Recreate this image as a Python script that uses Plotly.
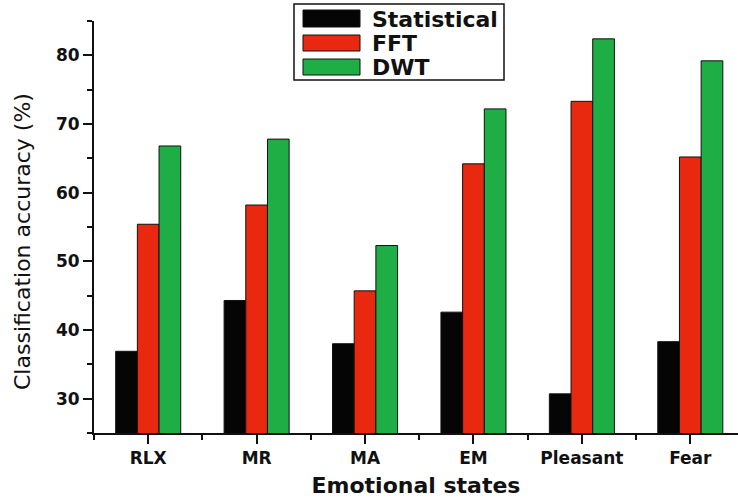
import plotly.graph_objects as go

# Classification accuracy per emotional state and feature type
states = ["RLX", "MR", "MA", "EM", "Pleasant", "Fear"]
statistical = [36.9, 44.3, 38.0, 42.6, 30.7, 38.3]
fft = [55.4, 58.2, 45.7, 64.2, 73.3, 65.2]
dwt = [66.8, 67.8, 52.3, 72.2, 82.4, 79.2]
y_ticks = [30, 40, 50, 60, 70, 80]

series = [
    ("Statistical", statistical, "#050505"),
    ("FFT", fft, "#e8290f"),
    ("DWT", dwt, "#1fae45"),
]

W, H = 738, 499
L, R, T, B = 94, 0, 21, 66
plot_w = W - L - R
plot_h = H - T - B
FONT = "DejaVu Sans, Liberation Sans, Arial, sans-serif"

xs = list(range(len(states)))

fig = go.Figure()
for name, vals, col in series:
    fig.add_trace(go.Bar(
        x=xs, y=vals, name=name,
        marker=dict(color=col, line=dict(color="#111111", width=1)),
        showlegend=False,
    ))


def px(x):
    return (x - L) / plot_w


def py(y):
    return (H - B - y) / plot_h


# Legend box drawn by hand so the swatches keep their wide shape
shapes = [dict(type="rect", xref="paper", yref="paper",
               x0=px(294), x1=px(504), y0=py(80), y1=py(4),
               line=dict(color="#111111", width=1.5), fillcolor="white")]
annotations = []
rows = [(10, 27), (35, 51), (59, 75)]
for (name, _, col), (y0, y1) in zip(series, rows):
    shapes.append(dict(type="rect", xref="paper", yref="paper",
                       x0=px(303), x1=px(360), y0=py(y1), y1=py(y0),
                       line=dict(color="#111111", width=1), fillcolor=col))
    annotations.append(dict(text=f"<b>{name}</b>", xref="paper", yref="paper",
                            x=px(370), y=py((y0 + y1) / 2 + 1), xanchor="left",
                            yanchor="middle", showarrow=False,
                            font=dict(size=22, color="#111111")))

# Y-axis title, set slightly below the middle of the plot area
annotations.append(dict(text="Classification accuracy (%)", xref="paper", yref="paper",
                        x=px(22), y=py(242), xanchor="center", yanchor="middle",
                        textangle=-90, showarrow=False,
                        font=dict(size=22, color="#111111")))

fig.update_layout(
    width=W, height=H,
    margin=dict(l=L, r=R, t=T, b=B),
    paper_bgcolor="white", plot_bgcolor="white",
    font=dict(family=FONT, color="#111111"),
    barmode="group", bargap=0.4, bargroupgap=0,
    shapes=shapes, annotations=annotations,
)

fig.update_xaxes(
    range=[-0.5, 5.44], tickvals=xs, ticktext=[f"<b>{s}</b>" for s in states],
    showline=True, linecolor="#111111", linewidth=2, mirror=False,
    ticks="outside", ticklen=9, tickwidth=2, tickcolor="#111111",
    tickfont=dict(size=17),
    minor=dict(dtick=0.5, tick0=0.5, ticks="outside", ticklen=5, tickwidth=2,
               tickcolor="#111111"),
    showgrid=False, zeroline=False,
    title=dict(text="<b>Emotional states</b>", font=dict(size=22), standoff=10),
)

fig.update_yaxes(
    range=[25, 85], tickvals=y_ticks,
    ticktext=[f"<b>{v}</b>" for v in y_ticks],
    showline=True, linecolor="#111111", linewidth=2,
    ticks="outside", ticklen=9, tickwidth=2, tickcolor="#111111",
    tickfont=dict(size=17),
    minor=dict(dtick=5, tick0=25, ticks="outside", ticklen=5, tickwidth=2,
               tickcolor="#111111"),
    showgrid=False, zeroline=False,
)

fig.write_html("out.html")
